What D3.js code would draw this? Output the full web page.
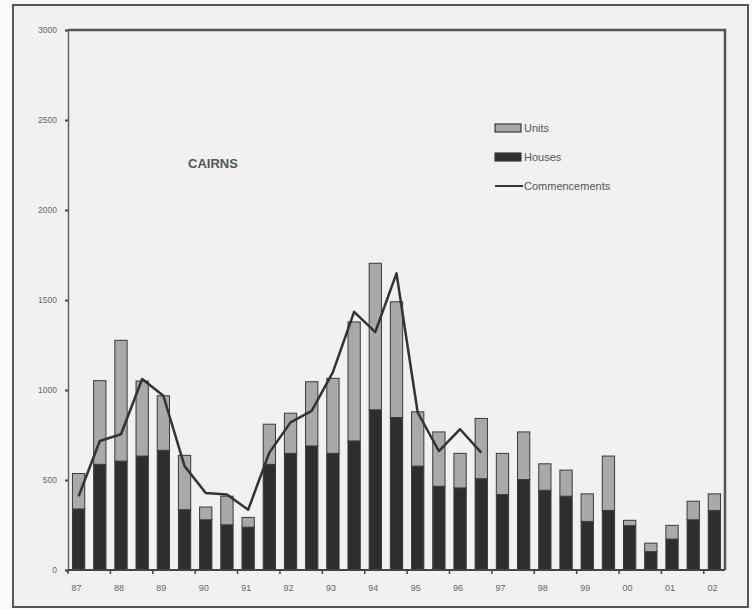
<!DOCTYPE html>
<html>
<head>
<meta charset="utf-8">
<script src="https://cdn.jsdelivr.net/npm/d3@7"></script>
<style>
  body { margin: 0; background: #fafafa; }
  #chart { width: 752px; height: 610px; }
</style>
</head>
<body>
<div id="chart"></div>
<script>
// half-yearly periods, 87 to 02
const periods = ['87a','87b','88a','88b','89a','89b','90a','90b','91a','91b','92a','92b','93a','93b',
  '94a','94b','95a','95b','96a','96b','97a','97b','98a','98b','99a','99b','00a','00b','01a','01b','02a'];
const yearLabels = ['87','88','89','90','91','92','93','94','95','96','97','98','99','00','01','02'];

const houses = [339,587,605,633,665,335,279,251,238,587,648,689,648,717,890,
  847,577,465,456,507,419,503,443,410,270,331,246,102,172,279,331];
const units = [197,465,671,417,303,302,71,159,54,223,223,357,417,661,814,
  643,302,302,192,335,229,264,147,145,153,302,30,47,76,103,92];
// commencements line stops at 96b
const commencements = [410,717,754,1061,968,577,428,419,335,652,820,884,1099,1434,1322,
  1648,875,661,782,652];

const yTicks = [0,500,1000,1500,2000,2500,3000];

const width = 752, height = 610;
const margin = {left: 68, right: 27, top: 30, bottom: 40};

const svg = d3.select('#chart').append('svg')
  .attr('width', width).attr('height', height)
  .style('font-family', 'Arial, "Liberation Sans", sans-serif');

// page + outer frame
svg.append('rect').attr('width', width).attr('height', height).attr('fill', '#fafafa');
svg.append('rect').attr('x', 13).attr('y', 5).attr('width', 735).attr('height', 602)
  .attr('fill', '#f1f1f1').attr('stroke', '#555').attr('stroke-width', 2);

const x = d3.scaleBand()
  .domain(periods)
  .range([margin.left, width - margin.right])
  .paddingInner(0.42)
  .paddingOuter(0.21);

const y = d3.scaleLinear()
  .domain([0, 3000])
  .range([height - margin.bottom, margin.top]);

// plot frame: heavy top and right, lighter left
svg.append('path')
  .attr('d', `M${margin.left},${margin.top}H${width - margin.right}V${y(0)}`)
  .attr('fill', 'none').attr('stroke', '#555').attr('stroke-width', 2.5);

// y axis
const yAxis = svg.append('g')
  .attr('transform', `translate(${margin.left},0)`)
  .call(d3.axisLeft(y).tickValues(yTicks).tickSize(3).tickFormat(d3.format('d')));
yAxis.select('.domain').attr('stroke', '#666').attr('stroke-width', 1.5);
yAxis.selectAll('.tick line').attr('stroke', '#444').attr('stroke-width', 2);
yAxis.selectAll('text').attr('fill', '#666').style('font-size', '8.5px').attr('x', -11);

// stacked bars
const stackData = periods.map((p, i) => ({period: p, houses: houses[i], units: units[i]}));
const series = d3.stack().keys(['houses', 'units'])(stackData);
const fills = {houses: '#2e2e2e', units: '#a9a9a9'};

svg.append('g').selectAll('g')
  .data(series)
  .join('g')
  .attr('fill', d => fills[d.key])
  .selectAll('rect')
  .data(d => d)
  .join('rect')
  .attr('x', d => x(d.data.period))
  .attr('width', x.bandwidth())
  .attr('y', d => y(d[1]))
  .attr('height', d => y(d[0]) - y(d[1]))
  .attr('stroke', '#3a3a3a')
  .attr('stroke-width', 1);

// x axis line
svg.append('line')
  .attr('x1', margin.left).attr('x2', width - margin.right)
  .attr('y1', y(0)).attr('y2', y(0))
  .attr('stroke', '#444').attr('stroke-width', 2);

// year ticks at every second band boundary
const boundary = i => x(periods[i]) - x.step() * x.paddingInner() / 2;
const tickIdx = d3.range(0, periods.length, 2);
svg.append('g').selectAll('line')
  .data(tickIdx)
  .join('line')
  .attr('x1', i => boundary(i)).attr('x2', i => boundary(i))
  .attr('y1', y(0)).attr('y2', y(0) + 4)
  .attr('stroke', '#444').attr('stroke-width', 1.5);

svg.append('g').selectAll('text')
  .data(yearLabels)
  .join('text')
  .attr('x', (d, i) => x(periods[i * 2]) + x.bandwidth() / 2 - 2)
  .attr('y', y(0) + 21)
  .attr('text-anchor', 'middle')
  .attr('fill', '#666')
  .style('font-size', '9px')
  .text(d => d);

// commencements line
const line = d3.line()
  .x((d, i) => x(periods[i]) + x.bandwidth() / 2)
  .y(d => y(d));
svg.append('path')
  .datum(commencements)
  .attr('d', line)
  .attr('fill', 'none')
  .attr('stroke', '#333')
  .attr('stroke-width', 2.5)
  .attr('stroke-linejoin', 'round');

// title
svg.append('text')
  .attr('x', 188).attr('y', 168)
  .attr('fill', '#555')
  .style('font-size', '13px')
  .style('font-weight', 'bold')
  .text('CAIRNS');

// legend
const legend = svg.append('g').attr('transform', 'translate(495,128)');
const legendItems = [
  {label: 'Units', type: 'rect', fill: fills.units},
  {label: 'Houses', type: 'rect', fill: fills.houses},
  {label: 'Commencements', type: 'line'}
];
legendItems.forEach((item, i) => {
  const g = legend.append('g').attr('transform', `translate(0,${i * 29})`);
  if (item.type === 'rect') {
    g.append('rect').attr('x', 0).attr('y', -4).attr('width', 26).attr('height', 8)
      .attr('fill', item.fill).attr('stroke', '#3a3a3a').attr('stroke-width', 1.2);
  } else {
    g.append('line').attr('x1', 0).attr('x2', 28).attr('y1', 0).attr('y2', 0)
      .attr('stroke', '#333').attr('stroke-width', 2);
  }
  g.append('text').attr('x', 29).attr('y', 4)
    .attr('fill', '#555')
    .style('font-size', '11px')
    .text(item.label);
});
</script>
</body>
</html>
